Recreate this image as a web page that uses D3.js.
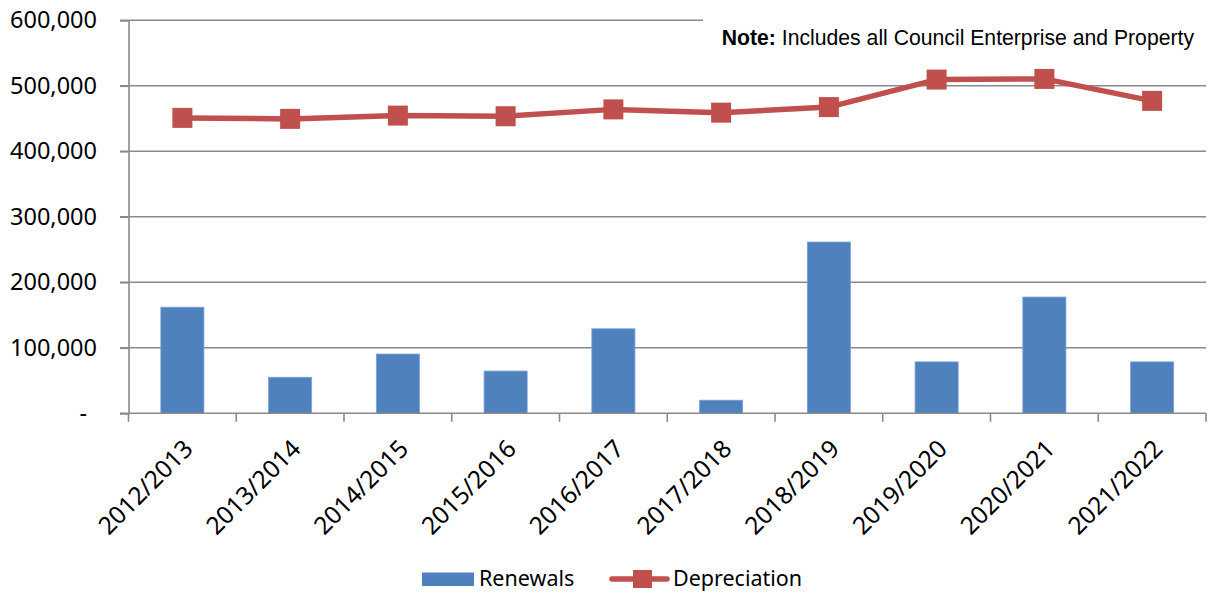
<!DOCTYPE html>
<html>
<head>
<meta charset="utf-8">
<script src="https://cdn.jsdelivr.net/npm/d3@7"></script>
<style>
  html, body { margin: 0; padding: 0; background: #fff; }
  svg { display: block; }
</style>
</head>
<body>
<svg id="chart" width="1209" height="592"></svg>
<script>
// Financial years shown on the category axis
const categories = ["2012/2013", "2013/2014", "2014/2015", "2015/2016", "2016/2017",
                    "2017/2018", "2018/2019", "2019/2020", "2020/2021", "2021/2022"];
// Annual renewals spend (bars)
const renewals = [162000, 55000, 90500, 64500, 129000, 20000, 261500, 78500, 177500, 78500];
// Annual depreciation (line)
const depreciation = [451000, 449500, 454500, 453500, 464000, 459000, 467500, 509500, 510500, 477000];
// Value axis ticks
const yTicks = [0, 100000, 200000, 300000, 400000, 500000, 600000];

const seriesNames = ["Renewals", "Depreciation"];
const noteBold = "Note:";
const noteText = " Includes all Council Enterprise and Property";

const BAR = "#4F81BD", LINE = "#C0504D", GRID = "#8a8a8a";
const FONT = "'Noto Sans', sans-serif";

const svg = d3.select("#chart");
const plot = { left: 128.5, right: 1206, top: 20.3, bottom: 413.3 };

const x = d3.scaleBand().domain(categories).range([plot.left, plot.right]).paddingInner(0).paddingOuter(0);
const y = d3.scaleLinear().domain([0, 600000]).range([plot.bottom, plot.top]);

const fmt = d3.format(",");

// Horizontal gridlines, extending left as tick marks
svg.append("g")
  .selectAll("line")
  .data(yTicks.filter(d => d > 0))
  .join("line")
  .attr("x1", plot.left - 8.5).attr("x2", plot.right)
  .attr("y1", d => y(d)).attr("y2", d => y(d))
  .attr("stroke", GRID).attr("stroke-width", 1.6);

// Value axis
const yAxis = d3.axisLeft(y).tickValues(yTicks).tickSize(8.5).tickPadding(23)
  .tickFormat(d => d === 0 ? "-" : fmt(d));
const gy = svg.append("g").attr("transform", `translate(${plot.left},0)`).call(yAxis);
gy.select(".domain").attr("stroke", GRID).attr("stroke-width", 1.6);
gy.selectAll(".tick line").attr("stroke", GRID).attr("stroke-width", 1.6);
gy.selectAll(".tick text")
  .attr("font-family", FONT).attr("font-size", 23.5).attr("fill", "#000")
  .attr("dx", d => d === 0 ? -10 : 0);

// Bars
svg.append("g")
  .selectAll("rect")
  .data(renewals)
  .join("rect")
  .attr("x", (d, i) => x(categories[i]) + x.bandwidth() * 0.3)
  .attr("width", x.bandwidth() * 0.4)
  .attr("y", d => y(d))
  .attr("height", d => y(0) - y(d))
  .attr("fill", BAR)
  .attr("stroke", "#7ea2d4").attr("stroke-width", 0.8);

// Category axis (ticks at band edges)
svg.append("line")
  .attr("x1", plot.left - 8.5).attr("x2", plot.right)
  .attr("y1", y(0)).attr("y2", y(0))
  .attr("stroke", GRID).attr("stroke-width", 1.6);
const edges = categories.map(c => x(c)).concat([plot.right]);
svg.append("g")
  .selectAll("line")
  .data(edges)
  .join("line")
  .attr("x1", d => d).attr("x2", d => d)
  .attr("y1", y(0)).attr("y2", y(0) + 8.5)
  .attr("stroke", GRID).attr("stroke-width", 1.6);

svg.append("g")
  .selectAll("text")
  .data(categories)
  .join("text")
  .attr("transform", d => `translate(${x(d) + x.bandwidth() / 2 + 12},${y(0) + 37}) rotate(-45)`)
  .attr("text-anchor", "end")
  .attr("font-family", FONT).attr("font-size", 24.5).attr("fill", "#000")
  .text(d => d);

// Depreciation line with square markers
const line = d3.line()
  .x((d, i) => x(categories[i]) + x.bandwidth() / 2)
  .y(d => y(d));
svg.append("path")
  .datum(depreciation)
  .attr("d", line)
  .attr("fill", "none").attr("stroke", LINE).attr("stroke-width", 5.5)
  .attr("stroke-linejoin", "round");

const M = 20;
svg.append("g")
  .selectAll("rect")
  .data(depreciation)
  .join("rect")
  .attr("x", (d, i) => x(categories[i]) + x.bandwidth() / 2 - M / 2)
  .attr("y", d => y(d) - M / 2)
  .attr("width", M).attr("height", M)
  .attr("fill", LINE);

// Note box in the top-right corner
svg.append("rect")
  .attr("x", 703).attr("y", 8).attr("width", 506).attr("height", 50)
  .attr("fill", "#fff");
const note = svg.append("text")
  .attr("x", 1194).attr("y", 45)
  .attr("text-anchor", "end")
  .attr("font-family", "'Liberation Sans', Arial, sans-serif")
  .attr("font-size", 21.2).attr("fill", "#000");
note.append("tspan").attr("font-weight", "bold").text(noteBold);
note.append("tspan").text(noteText);

// Legend
const legend = svg.append("g");
legend.append("rect")
  .attr("x", 422).attr("y", 572.5).attr("width", 52).attr("height", 13.5)
  .attr("fill", BAR);
legend.append("text")
  .attr("x", 479).attr("y", 586)
  .attr("font-family", FONT).attr("font-size", 21.5).attr("fill", "#000")
  .text(seriesNames[0]);
legend.append("line")
  .attr("x1", 612).attr("x2", 667).attr("y1", 579).attr("y2", 579)
  .attr("stroke", LINE).attr("stroke-width", 5.5).attr("stroke-linecap", "round");
legend.append("rect")
  .attr("x", 642.5 - 9.5).attr("y", 579 - 9).attr("width", 19).attr("height", 18)
  .attr("fill", LINE);
legend.append("text")
  .attr("x", 673).attr("y", 586)
  .attr("font-family", FONT).attr("font-size", 21.5).attr("fill", "#000")
  .text(seriesNames[1]);
</script>
</body>
</html>
